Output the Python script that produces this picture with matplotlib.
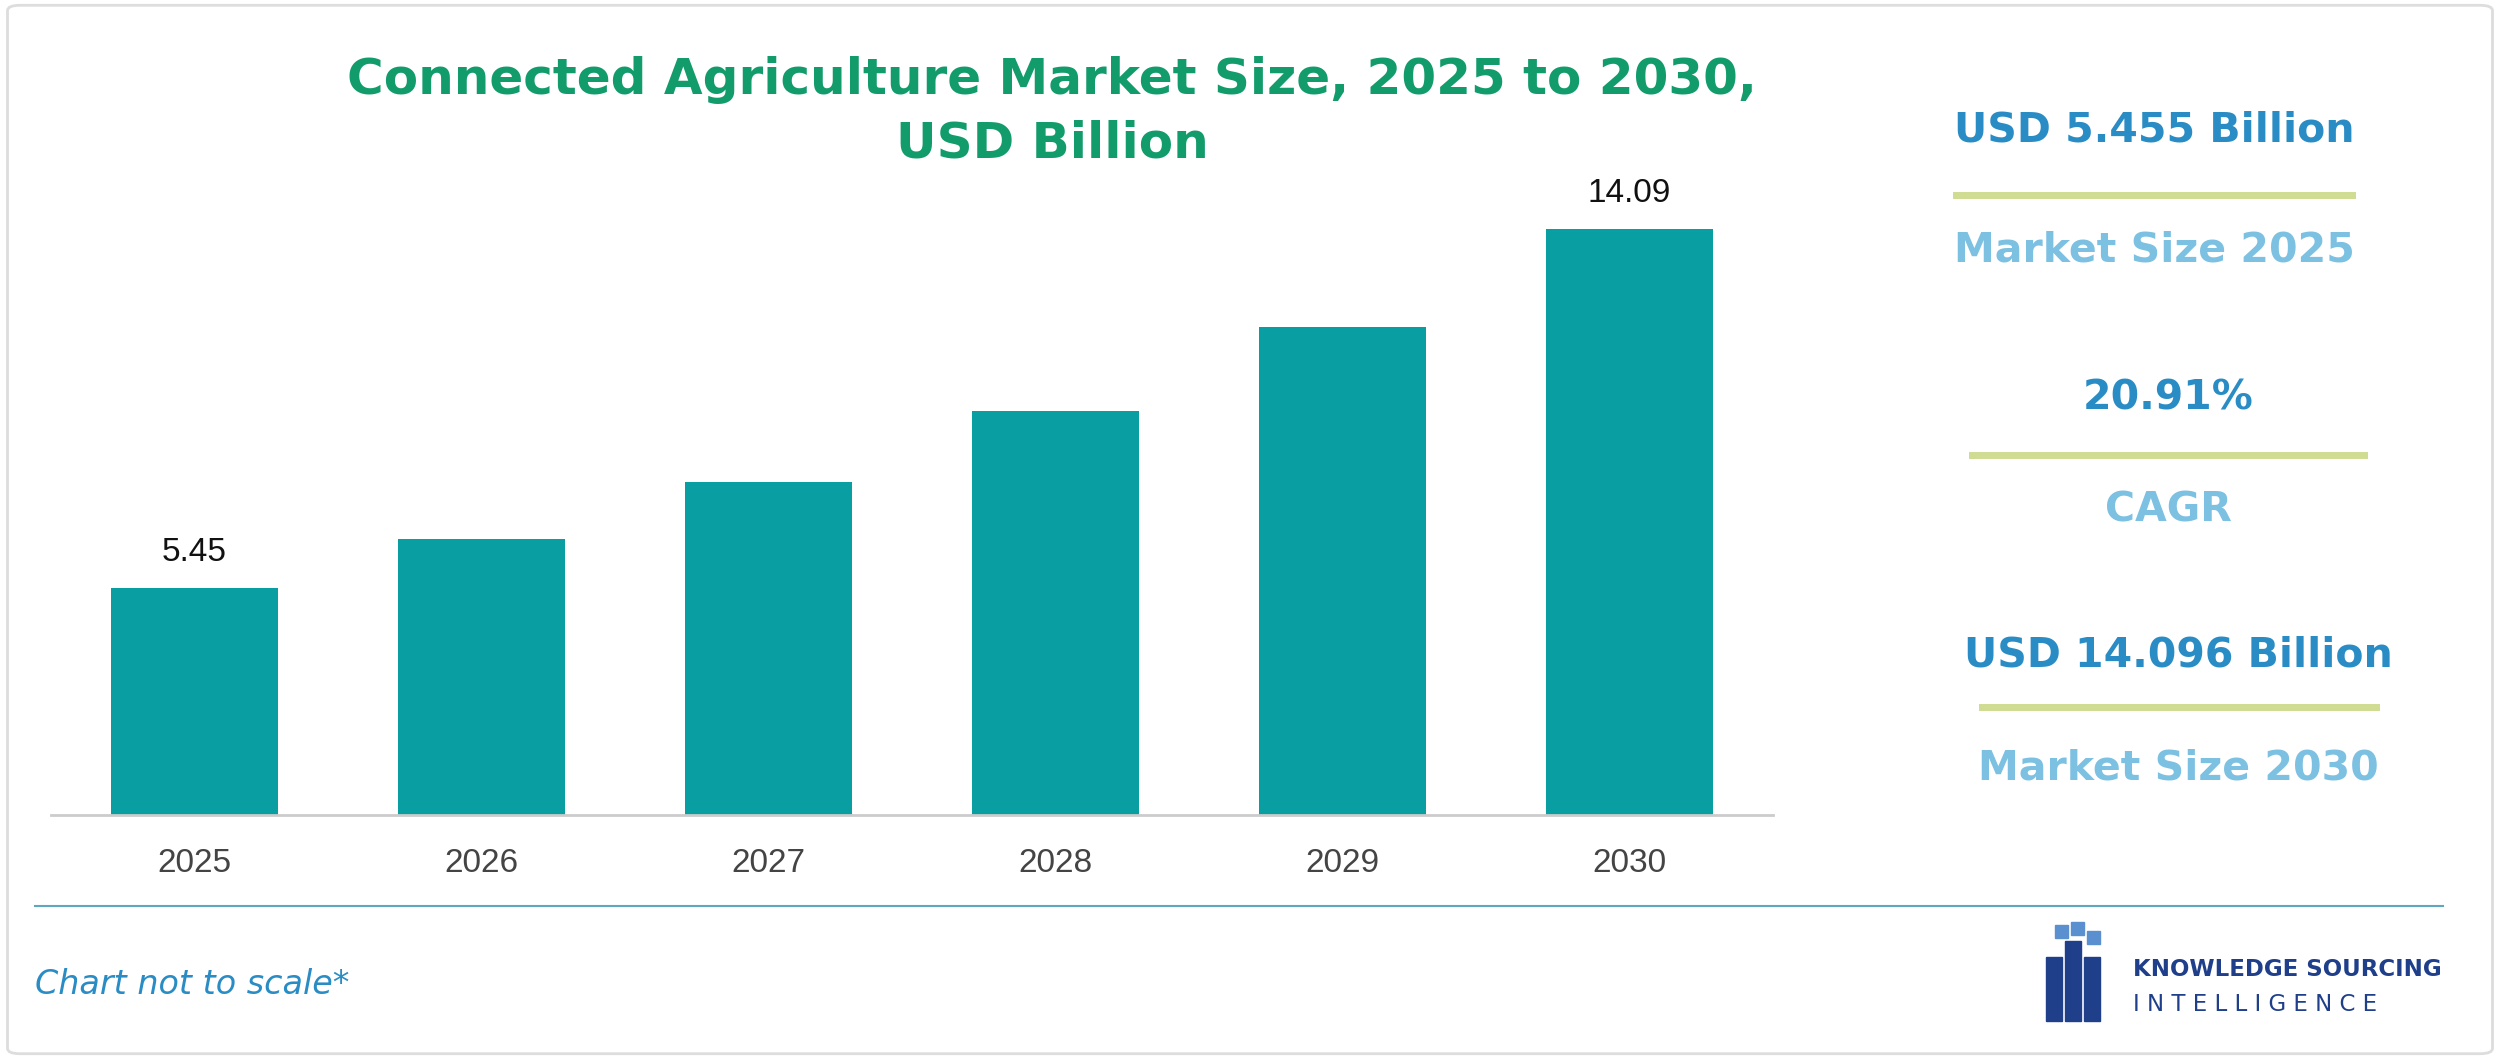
import matplotlib
matplotlib.use("Agg")
import matplotlib.pyplot as plt
from matplotlib.patches import FancyBboxPatch, Rectangle

years = ["2025", "2026", "2027", "2028", "2029", "2030"]
values = [5.45, 6.64, 8.02, 9.71, 11.74, 14.09]
labels = {0: "5.45", 5: "14.09"}

W, H = 1568, 664
fig = plt.figure(figsize=(25, 10.59), dpi=100)
fig.patch.set_facecolor("white")
fx = lambda x: x / W
fy = lambda y: 1 - y / H

fig.patches.append(FancyBboxPatch((0.003, 0.005), 0.994, 0.99, boxstyle="round,pad=0,rounding_size=0.005",
                                  transform=fig.transFigure, fill=False, ec="#dddddd", lw=2))

ax = fig.add_axes([fx(32), fy(511), 1080 / W, 451 / H])
ax.bar(range(6), values, width=0.58, color="#089ea2")
ax.set_xlim(-0.5, 5.5)
ax.set_ylim(0, 451 / 26.06)
for i, t in labels.items():
    ax.text(i, values[i] + 0.5, t, ha="center", va="bottom", fontsize=24, color="#111111",
            family="Liberation Sans")
ax.set_xticks(range(6))
ax.set_xticklabels(years, fontsize=24, color="#444444", family="Liberation Sans")
ax.tick_params(axis="x", length=0, pad=24)
ax.set_yticks([])
for s in ["top", "right", "left"]:
    ax.spines[s].set_visible(False)
ax.spines["bottom"].set_color("#cccccc")
ax.spines["bottom"].set_linewidth(2)

green = "#129b6b"
fig.text(fx(660), fy(50), "Connected Agriculture Market Size, 2025 to 2030,", ha="center", va="center",
         fontsize=36, fontweight="bold", color=green)
fig.text(fx(660), fy(90), "USD Billion", ha="center", va="center", fontsize=36, fontweight="bold", color=green)

dark = "#2a8cc4"
light = "#7cc0e2"
line_c = "#cfdc92"
panel = [("USD 5.455 Billion", 82, 122, "Market Size 2025", 157, 1227, 1475),
         ("20.91%", 250, 285, "CAGR", 320, 1237, 1483),
         ("USD 14.096 Billion", 411, 443, "Market Size 2030", 482, 1243, 1490)]
for top, yt, yl, bot, yb, x0, x1 in panel:
    cx = (x0 + x1) / 2
    fig.text(fx(cx), fy(yt), top, ha="center", va="center", fontsize=29.5, fontweight="bold", color=dark)
    fig.add_artist(plt.Line2D([fx(x0), fx(x1)], [fy(yl), fy(yl)], color=line_c, lw=5))
    fig.text(fx(cx), fy(yb), bot, ha="center", va="center", fontsize=29.5, fontweight="bold", color=light)

fig.add_artist(plt.Line2D([fx(22), fx(1532)], [fy(568), fy(568)], color="#5fa7bf", lw=1.5))
fig.text(fx(22), fy(617), "Chart not to scale*", ha="left", va="center", fontsize=24, style="italic", color="#2a8cc4")

# logo
navy = "#1f3f8a"
for i, (x, y, w, h) in enumerate([(1283, 600, 10, 40), (1295, 590, 10, 50), (1307, 600, 10, 40),
                                   (1289, 580, 8, 8), (1299, 578, 8, 8), (1309, 584, 8, 8)]):
    fig.patches.append(Rectangle((fx(x), fy(y + h)), w / W, h / H, transform=fig.transFigure,
                                 color=navy if i < 3 else "#5a8fd0"))
fig.text(fx(1338), fy(608), "KNOWLEDGE SOURCING", ha="left", va="center", fontsize=16.5, fontweight="bold", color=navy)
fig.text(fx(1338), fy(630), "I N T E L L I G E N C E", ha="left", va="center", fontsize=16.5, color=navy)

fig.savefig("out.png", dpi=100, facecolor="white")
